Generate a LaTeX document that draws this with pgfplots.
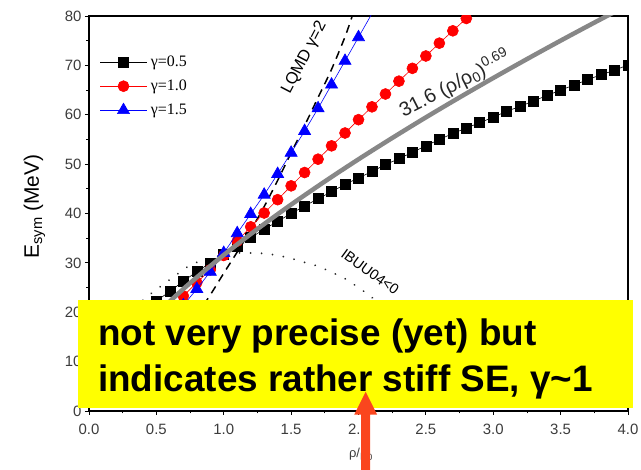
\documentclass[border=0pt]{standalone}
\usepackage{fontspec}
\setmainfont{Liberation Sans}
\newfontfamily\timesfont{Liberation Serif}
\usepackage{pgfplots}
\pgfplotsset{compat=1.18}

\definecolor{arrowred}{RGB}{250,70,30}
\definecolor{ticktext}{RGB}{60,60,60}
\definecolor{powgray}{RGB}{135,135,135}
\definecolor{boxyellow}{RGB}{255,255,0}

% symmetry energy vs density, gamma = 0.5
\pgfplotstableread{
x y
0.5 22.3
0.6 24.2
0.7 26.3
0.8 28.2
0.9 30.0
1.0 31.7
1.1 33.4
1.2 35.1
1.3 36.8
1.4 38.4
1.5 40.0
1.6 41.5
1.7 43.0
1.8 44.4
1.9 45.9
2.0 47.2
2.1 48.5
2.2 49.9
2.3 51.1
2.4 52.4
2.5 53.7
2.6 55.0
2.7 56.2
2.8 57.3
2.9 58.4
3.0 59.5
3.1 60.7
3.2 61.7
3.3 62.8
3.4 63.9
3.5 65.0
3.6 66.0
3.7 67.1
3.8 68.1
3.9 69.0
4.0 70.1
}\gammahalf

% gamma = 1.0
\pgfplotstableread{
x y
0.6 20.7
0.7 23.3
0.8 26.0
0.9 28.6
1.0 31.5
1.1 34.4
1.2 37.3
1.3 40.1
1.4 42.8
1.5 45.6
1.6 48.3
1.7 51.0
1.8 53.7
1.9 56.3
2.0 59.0
2.1 61.6
2.2 64.2
2.3 66.8
2.4 69.4
2.5 71.9
2.6 74.5
2.7 77.0
2.8 79.5
}\gammaone

% gamma = 1.5
\pgfplotstableread{
x y
0.7 21.4
0.8 24.7
0.9 28.2
1.0 32.0
1.1 36.0
1.2 39.9
1.3 43.8
1.4 48.0
1.5 52.3
1.6 56.7
1.7 61.3
1.8 66.1
1.9 70.9
2.0 75.7
2.1 80.5
}\gammaonehalf

\begin{document}
\begin{tikzpicture}[x=1bp,y=1bp]
\useasboundingbox (-89,-59) rectangle (552,411);
\begin{axis}[
  at={(0,0)}, anchor=south west,
  scale only axis, width=539bp, height=395bp,
  xmin=0, xmax=4, ymin=0, ymax=80,
  xtick={0,0.5,...,4}, minor x tick num=1,
  ytick={0,10,...,80}, minor y tick num=1,
  xticklabel style={yshift=-6bp,
    /pgf/number format/.cd, fixed, fixed zerofill, precision=1},
  tick align=outside, xtick pos=left, ytick pos=left,
  major tick length=4bp, minor tick length=2.5bp,
  tick style={black, line width=0.8bp},
  axis line style={line width=1.1bp},
  ticklabel style={font=\fontsize{15}{15}\selectfont, text=ticktext},
  /pgf/number format/assume math mode=true,
  clip marker paths=true,
  legend cell align=left,
  legend style={at={(axis description cs:0,1)}, anchor=north west,
    xshift=11bp, yshift=-38bp, draw=none, fill=none, inner sep=0pt,
    row sep=8bp, column sep=4bp,
    font=\timesfont\fontsize{16}{16}\selectfont,
    nodes={inner sep=0pt, text height=12bp, text depth=4bp}},
  legend image code/.code={%
    \draw[mark repeat=2, mark phase=2, #1]
      plot coordinates {(0bp,0bp) (23bp,0bp) (46bp,0bp)};},
]
% IBUU04 (dotted)
\addplot[black!85, line width=2bp, line cap=round,
  dash pattern=on 0.01bp off 11bp, smooth, forget plot] coordinates {
  (0.40,22.4) (0.48,24.2) (0.56,25.8) (0.64,27.4) (0.72,29.0) (0.80,30.1)
  (0.90,31.0) (1.00,31.6) (1.10,32.0) (1.20,32.0) (1.30,31.9) (1.40,31.5)
  (1.50,30.9) (1.60,30.1) (1.70,29.3) (1.80,28.1) (1.90,26.8) (2.00,25.0)
  (2.10,23.0) (2.20,20.8) (2.30,18.5)};
% LQMD gamma = 2 (dashed)
\addplot[black, line width=1.5bp, dash pattern=on 8bp off 6bp, smooth,
  forget plot] coordinates {
  (0.85,21.5) (0.9,23.5) (1.0,27.9) (1.1,32.2) (1.2,36.6) (1.3,41.4)
  (1.4,46.7) (1.5,52.3) (1.6,57.8) (1.7,63.5) (1.8,69.2) (1.9,75.8)
  (1.96,80.5)};

\addplot[black, line width=0.6bp, mark=square*, mark size=5bp,
  mark options={solid, fill=black}] table {\gammahalf};
\addlegendentry{γ=0.5}
\addplot[red, line width=0.6bp, mark=*, mark size=5.5bp,
  mark options={solid, fill=red}] table {\gammaone};
\addlegendentry{γ=1.0}
\addplot[blue, line width=0.6bp, mark=triangle*, mark size=7bp,
  mark options={solid, fill=blue}] table {\gammaonehalf};
\addlegendentry{γ=1.5}

% power-law fit 31.6 (rho/rho0)^0.69
\addplot[powgray, line width=4.5bp, smooth, forget plot] coordinates {
  (0.40,16.79) (0.50,19.59) (0.60,22.21) (0.75,25.91) (1.00,31.60)
  (1.25,36.86) (1.50,41.80) (1.75,46.49) (2.00,50.98) (2.25,55.29)
  (2.50,59.47) (2.75,63.51) (3.00,67.44) (3.25,71.27) (3.50,75.01)
  (3.75,78.66) (4.00,82.24)};

\node[rotate=62.5, anchor=base west, inner sep=0pt,
  font=\fontsize{16.5}{16.5}\selectfont] at (axis cs:1.49,64.0) {LQMD γ=2};
\node[rotate=27, anchor=base west, inner sep=0pt,
  font=\fontsize{20}{20}\selectfont, text=black!85] at (axis cs:2.333,59.5)
  {31.6 (ρ/ρ\textsubscript{0})\textsuperscript{0.69}};
\node[rotate=-36, anchor=base west, inner sep=0pt,
  font=\fontsize{14.5}{14.5}\selectfont] at (axis cs:1.863,31.4) {IBUU04<0};
\end{axis}

% axis titles
\node[rotate=90, anchor=base, inner sep=0pt, font=\fontsize{21}{21}\selectfont]
  at (-50,204.5) {E\textsubscript{sym} (MeV)};
\node[anchor=base, inner sep=0pt, font=\fontsize{13}{13}\selectfont, text=ticktext]
  at (272,-47) {ρ/ρ\textsubscript{0}};

% comment box
\fill[boxyellow] (-11,3) rectangle (544,111);
\node[anchor=base west, inner sep=0pt, font=\fontsize{37}{37}\bfseries\selectfont]
  at (9,65) {not very precise (yet) but};
\node[anchor=base west, inner sep=0pt, font=\fontsize{37}{37}\bfseries\selectfont]
  at (9,19.3) {indicates rather stiff SE, γ\textasciitilde 1};

% arrow
\fill[arrowred] (272.2,-60) -- (272.2,-3.7) -- (265.2,-3.7) -- (276.7,19.3)
  -- (288.2,-3.7) -- (281.2,-3.7) -- (281.2,-60) -- cycle;
\end{tikzpicture}
\end{document}
